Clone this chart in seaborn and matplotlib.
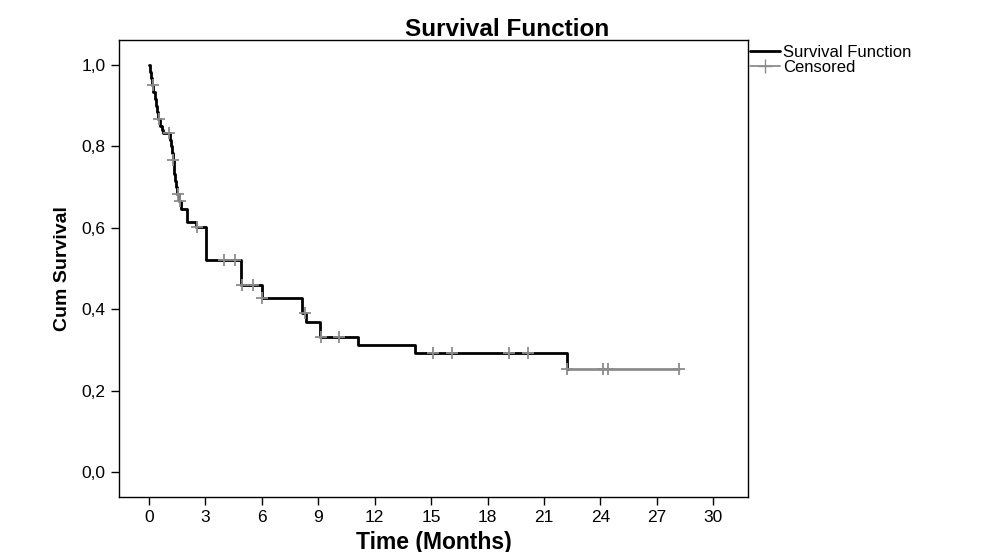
import matplotlib
matplotlib.use("Agg")
import matplotlib.pyplot as plt
import numpy as np
import pandas as pd
import seaborn as sns
from matplotlib.lines import Line2D

# Kaplan-Meier steps (time in months, survival after the drop)
event_times = [0.05, 0.1, 0.15, 0.22, 0.3, 0.35, 0.42, 0.5, 0.6, 0.68, 0.72,
               1.1, 1.15, 1.2, 1.25, 1.3, 1.35, 1.4, 1.45, 1.5, 1.58, 1.72,
               2.0, 2.5, 3.05, 4.9, 6.0, 8.15, 8.35, 9.1, 11.1, 14.15, 22.2]
survival = [0.983, 0.967, 0.95, 0.933, 0.917, 0.90, 0.883, 0.866, 0.85, 0.84, 0.833,
            0.816, 0.80, 0.783, 0.766, 0.75, 0.733, 0.716, 0.70, 0.683, 0.666, 0.645,
            0.614, 0.602, 0.52, 0.46, 0.427, 0.39, 0.368, 0.332, 0.312, 0.292, 0.253]
censor_times = [0.2, 0.52, 1.05, 1.28, 1.55, 1.65, 2.55, 4.0, 4.55, 4.95, 5.55,
                6.02, 8.3, 9.12, 10.1, 15.1, 16.1, 19.15, 20.15, 22.22, 24.15, 24.4, 28.2]
last_followup = 28.2

x_ticks = [0, 3, 6, 9, 12, 15, 18, 21, 24, 27, 30]
y_ticks = [0.0, 0.2, 0.4, 0.6, 0.8, 1.0]
y_ticklabels = ["0,0", "0,2", "0,4", "0,6", "0,8", "1,0"]

sns.set_theme(style="ticks")
plt.rcParams["font.family"] = ["Liberation Sans", "DejaVu Sans"]
for key in ["text.color", "axes.labelcolor", "xtick.color", "ytick.color"]:
    plt.rcParams[key] = "black"

# step series up to the last event
df_step = pd.DataFrame({"time": [0.0] + event_times, "surv": [1.0] + survival})
# flat tail after the last event (drawn grey like the censor marks)
df_tail = pd.DataFrame({"time": [event_times[-1], last_followup],
                        "surv": [survival[-1], survival[-1]]})
# survival level at each censoring time
idx = np.searchsorted(df_step["time"].values, censor_times, side="right") - 1
df_cens = pd.DataFrame({"time": censor_times, "surv": df_step["surv"].values[idx]})

grey = "#8c8c8c"

fig = plt.figure(figsize=(10, 5.52), dpi=100)
ax = fig.add_axes([0.119, 0.0996, 0.629, 0.828])

sns.lineplot(data=df_tail, x="time", y="surv", ax=ax, color=grey, lw=2,
             drawstyle="steps-post", estimator=None, sort=False)
sns.lineplot(data=df_step, x="time", y="surv", ax=ax, color="black", lw=2,
             drawstyle="steps-post", estimator=None, sort=False)
sns.scatterplot(data=df_cens, x="time", y="surv", ax=ax, marker="+", s=70,
                color=grey, linewidth=1.3, zorder=5)

ax.set_xlim(-1.6, 31.85)
ax.set_ylim(-0.061, 1.061)
ax.set_xticks(x_ticks)
ax.set_yticks(y_ticks)
ax.set_yticklabels(y_ticklabels)
ax.tick_params(direction="out", length=6, width=1, colors="black",
               labelsize=12.5, top=False, right=False)
for sp in ax.spines.values():
    sp.set_visible(True)
    sp.set_color("black")
    sp.set_linewidth(1)

ax.set_xlabel("Time (Months)", fontsize=16.5, fontweight="bold", labelpad=4)
ax.set_ylabel("Cum Survival", fontsize=14, fontweight="bold", labelpad=8)
fig.text(0.507, 0.935, "Survival Function", ha="center", fontsize=17.5,
         fontweight="bold")

handles = [Line2D([], [], color="black", lw=2, drawstyle="steps-post"),
           Line2D([], [], color=grey, lw=1.3, marker="+", markersize=10)]
ax.legend(handles, ["Survival Function", "Censored"], loc="upper left",
          bbox_to_anchor=(1.003, 0.99), frameon=False, fontsize=12,
          handlelength=1.8, handletextpad=0.2, borderaxespad=0,
          labelspacing=0.0, borderpad=0)

fig.savefig("out.png", dpi=100)
